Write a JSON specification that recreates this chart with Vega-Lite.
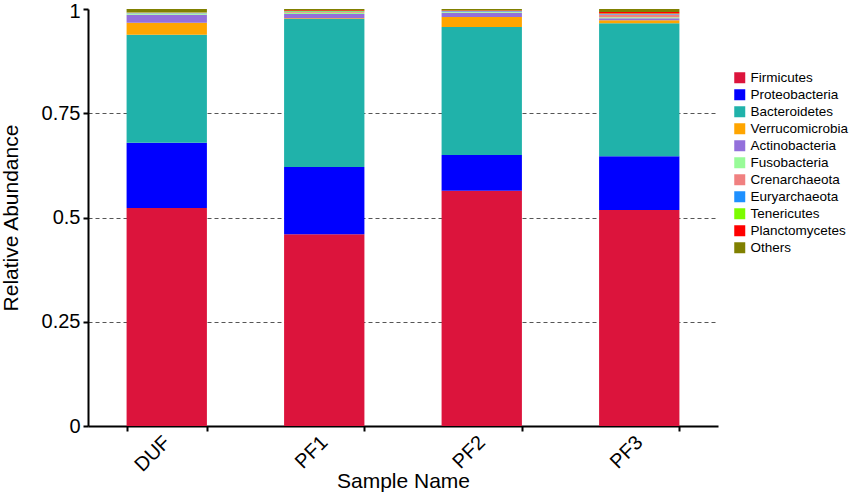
{
  "$schema": "https://vega.github.io/schema/vega-lite/v6.json",
  "width": 630,
  "height": 417,
  "autosize": {"type": "none"},
  "padding": {"left": 88, "top": 9, "right": 131, "bottom": 68},
  "background": "white",
  "config": {
    "font": "Liberation Sans",
    "view": {"stroke": null},
    "axis": {"labelFont": "Liberation Sans", "titleFont": "Liberation Sans", "titleFontWeight": "normal", "labelColor": "black", "titleColor": "black"}
  },
  "data": {
    "values": [
      {"sample": "DUF", "phylum": "Firmicutes", "o": 1, "v": 0.523},
      {"sample": "DUF", "phylum": "Proteobacteria", "o": 2, "v": 0.156},
      {"sample": "DUF", "phylum": "Bacteroidetes", "o": 3, "v": 0.259},
      {"sample": "DUF", "phylum": "Verrucomicrobia", "o": 4, "v": 0.029},
      {"sample": "DUF", "phylum": "Actinobacteria", "o": 5, "v": 0.019},
      {"sample": "DUF", "phylum": "Fusobacteria", "o": 6, "v": 0.003},
      {"sample": "DUF", "phylum": "Crenarchaeota", "o": 7, "v": 0.001},
      {"sample": "DUF", "phylum": "Euryarchaeota", "o": 8, "v": 0.001},
      {"sample": "DUF", "phylum": "Tenericutes", "o": 9, "v": 0.001},
      {"sample": "DUF", "phylum": "Planctomycetes", "o": 10, "v": 0.001},
      {"sample": "DUF", "phylum": "Others", "o": 11, "v": 0.007},
      {"sample": "PF1", "phylum": "Firmicutes", "o": 1, "v": 0.460},
      {"sample": "PF1", "phylum": "Proteobacteria", "o": 2, "v": 0.161},
      {"sample": "PF1", "phylum": "Bacteroidetes", "o": 3, "v": 0.355},
      {"sample": "PF1", "phylum": "Verrucomicrobia", "o": 4, "v": 0.002},
      {"sample": "PF1", "phylum": "Actinobacteria", "o": 5, "v": 0.010},
      {"sample": "PF1", "phylum": "Fusobacteria", "o": 6, "v": 0.003},
      {"sample": "PF1", "phylum": "Crenarchaeota", "o": 7, "v": 0.002},
      {"sample": "PF1", "phylum": "Euryarchaeota", "o": 8, "v": 0.001},
      {"sample": "PF1", "phylum": "Tenericutes", "o": 9, "v": 0.001},
      {"sample": "PF1", "phylum": "Planctomycetes", "o": 10, "v": 0.002},
      {"sample": "PF1", "phylum": "Others", "o": 11, "v": 0.003},
      {"sample": "PF2", "phylum": "Firmicutes", "o": 1, "v": 0.564},
      {"sample": "PF2", "phylum": "Proteobacteria", "o": 2, "v": 0.086},
      {"sample": "PF2", "phylum": "Bacteroidetes", "o": 3, "v": 0.307},
      {"sample": "PF2", "phylum": "Verrucomicrobia", "o": 4, "v": 0.024},
      {"sample": "PF2", "phylum": "Actinobacteria", "o": 5, "v": 0.010},
      {"sample": "PF2", "phylum": "Fusobacteria", "o": 6, "v": 0.002},
      {"sample": "PF2", "phylum": "Crenarchaeota", "o": 7, "v": 0.001},
      {"sample": "PF2", "phylum": "Euryarchaeota", "o": 8, "v": 0.001},
      {"sample": "PF2", "phylum": "Tenericutes", "o": 9, "v": 0.001},
      {"sample": "PF2", "phylum": "Planctomycetes", "o": 10, "v": 0.001},
      {"sample": "PF2", "phylum": "Others", "o": 11, "v": 0.003},
      {"sample": "PF3", "phylum": "Firmicutes", "o": 1, "v": 0.518},
      {"sample": "PF3", "phylum": "Proteobacteria", "o": 2, "v": 0.129},
      {"sample": "PF3", "phylum": "Bacteroidetes", "o": 3, "v": 0.319},
      {"sample": "PF3", "phylum": "Verrucomicrobia", "o": 4, "v": 0.007},
      {"sample": "PF3", "phylum": "Actinobacteria", "o": 5, "v": 0.005},
      {"sample": "PF3", "phylum": "Fusobacteria", "o": 6, "v": 0.002},
      {"sample": "PF3", "phylum": "Crenarchaeota", "o": 7, "v": 0.007},
      {"sample": "PF3", "phylum": "Euryarchaeota", "o": 8, "v": 0.001},
      {"sample": "PF3", "phylum": "Tenericutes", "o": 9, "v": 0.001},
      {"sample": "PF3", "phylum": "Planctomycetes", "o": 10, "v": 0.004},
      {"sample": "PF3", "phylum": "Others", "o": 11, "v": 0.007}
    ]
  },
  "mark": {"type": "bar", "stroke": null},
  "encoding": {
    "x": {
      "field": "sample",
      "type": "nominal",
      "sort": ["DUF", "PF1", "PF2", "PF3"],
      "scale": {"paddingInner": 0.49, "paddingOuter": 0.245},
      "axis": {
        "title": "Sample Name",
        "titleFontSize": 21,
        "titleY": 61,
        "titleBaseline": "alphabetic",
        "labelFontSize": 20,
        "labelAngle": -45,
        "labelAlign": "right",
        "labelBaseline": "middle",
        "labelPadding": 8,
        "tickBand": "extent",
        "domainColor": "black",
        "domainWidth": 2,
        "tickColor": "black",
        "tickWidth": 2,
        "tickSize": 5
      }
    },
    "y": {
      "field": "v",
      "type": "quantitative",
      "stack": "zero",
      "scale": {"domain": [0, 1], "nice": false},
      "axis": {
        "title": "Relative Abundance",
        "titleFontSize": 21,
        "titlePadding": 20,
        "labelFontSize": 20,
        "values": [0, 0.25, 0.5, 0.75, 1],
        "labelExpr": "datum.value == 0 ? '0' : datum.value == 1 ? '1' : format(datum.value, '.2~f')",
        "labelOffset": {"condition": {"test": "datum.value == 1", "value": 2}, "value": 0},
        "labelPadding": 3,
        "domainColor": "black",
        "domainWidth": 2,
        "tickColor": "black",
        "tickWidth": 2,
        "tickSize": 5,
        "grid": true,
        "gridColor": "#555555",
        "gridDash": [4, 3],
        "gridWidth": 1,
        "gridOpacity": {"condition": {"test": "datum.value == 0 || datum.value == 1", "value": 0}, "value": 1}
      }
    },
    "order": {"field": "o", "type": "quantitative", "sort": "ascending"},
    "color": {
      "field": "phylum",
      "type": "nominal",
      "sort": ["Firmicutes", "Proteobacteria", "Bacteroidetes", "Verrucomicrobia", "Actinobacteria", "Fusobacteria", "Crenarchaeota", "Euryarchaeota", "Tenericutes", "Planctomycetes", "Others"],
      "scale": {
        "domain": ["Firmicutes", "Proteobacteria", "Bacteroidetes", "Verrucomicrobia", "Actinobacteria", "Fusobacteria", "Crenarchaeota", "Euryarchaeota", "Tenericutes", "Planctomycetes", "Others"],
        "range": ["#DC143C", "#0000FF", "#20B2AA", "#FFA500", "#9370DB", "#98FB98", "#F08080", "#1E90FF", "#7CFC00", "#FF0000", "#808000"]
      },
      "legend": {
        "title": null,
        "orient": "none",
        "legendX": 645,
        "legendY": 62,
        "symbolType": "square",
        "symbolSize": 121,
        "symbolStrokeWidth": 0,
        "symbolOpacity": 1,
        "labelFontSize": 13.5,
        "labelColor": "black",
        "labelFont": "Liberation Sans",
        "rowPadding": 2,
        "labelOffset": 4
      }
    }
  }
}
